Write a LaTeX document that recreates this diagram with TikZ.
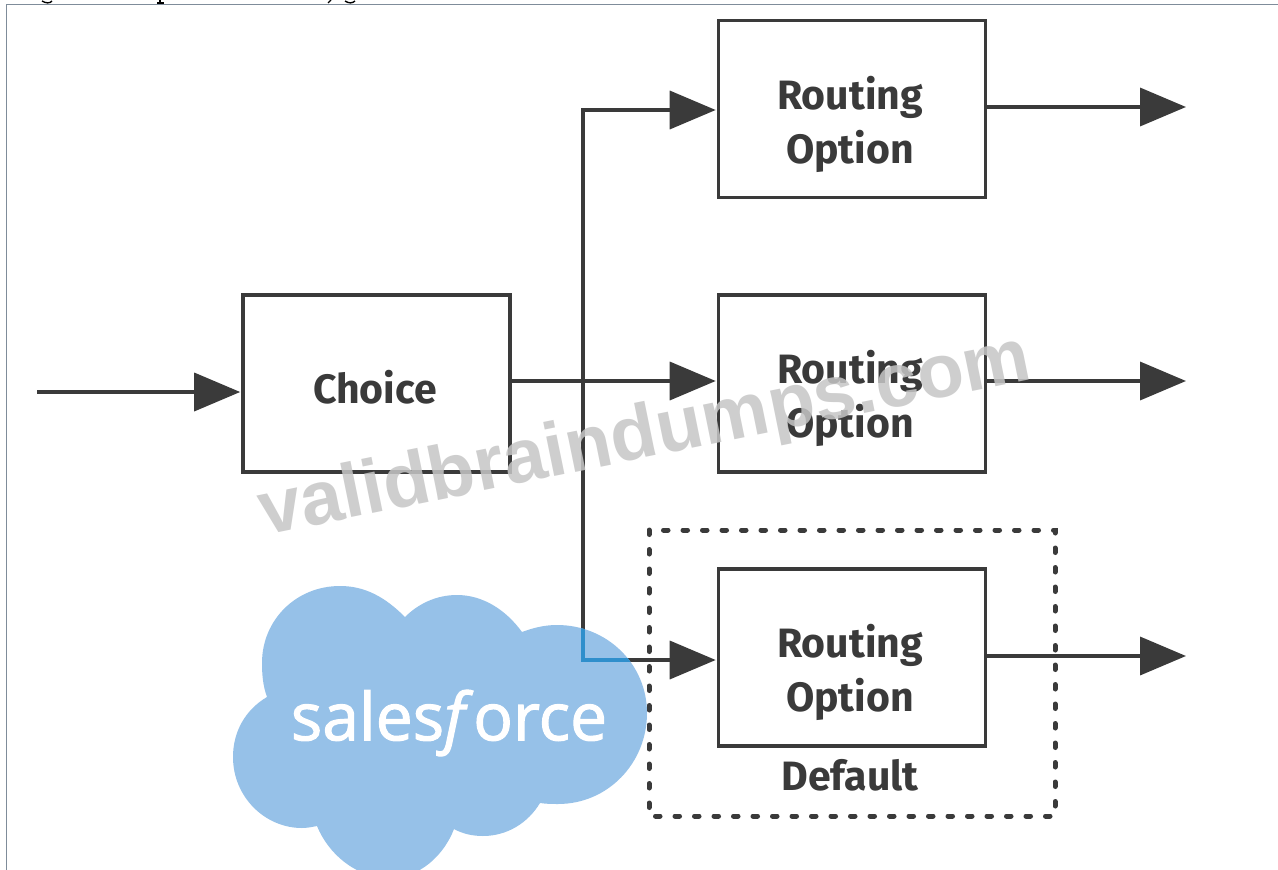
\documentclass[tikz,border=0pt]{standalone}
\usepackage{fontspec}
\setmainfont{Fira Sans}
\newfontfamily\wmfont{Liberation Sans}
\newfontfamily\logofont{Open Sans}[FakeBold=1.6,ItalicFeatures={FakeBold=1.6}]
\usetikzlibrary{arrows.meta,calc}
\definecolor{ink}{HTML}{3A3A3A}
\definecolor{cloudblue}{HTML}{96C1E8}
\definecolor{wm}{HTML}{C6C6C6}
\definecolor{framec}{HTML}{7F8C9A}
\definecolor{overblue}{HTML}{2F8FCC}
\newcommand{\cloudpath}{(405,617)
 .. controls (385,597) and (365,586) .. (340,586)
 .. controls (296,586) and (262,620) .. (262,663)
 .. controls (262,675) and (263,686) .. (267,697)
 .. controls (245,710) and (233,732) .. (233,757)
 .. controls (233,797) and (265,828) .. (302,828)
 .. controls (307,828) and (312,827) .. (317,826)
 .. controls (328,853) and (355,878) .. (390,878)
 .. controls (420,878) and (444,855) .. (454,829)
 .. controls (463,834) and (473,836) .. (483,836)
 .. controls (507,836) and (528,823) .. (540,803)
 .. controls (547,804) and (552,804) .. (558,804)
 .. controls (608,804) and (647,763) .. (647,713)
 .. controls (647,664) and (607,625) .. (557,625)
 .. controls (544,625) and (533,628) .. (522,632)
 .. controls (506,610) and (483,595) .. (457,595)
 .. controls (436,595) and (418,604) .. (405,617) -- cycle}
\tikzset{
  x=1pt,y=-1pt,
  rbox/.style={draw=ink,line width=3.6pt,fill=white,minimum width=267pt,minimum height=177pt,inner sep=0pt},
  label/.style={font=\fontsize{41}{54}\selectfont\bfseries\color{ink},align=center,inner sep=0pt},
  flow/.style={draw=ink,line width=3.6pt},
  link/.style={flow,-{Triangle[length=46pt,width=38pt]},shorten >=1pt},
}
\begin{document}
\begin{tikzpicture}
\useasboundingbox (0,0) rectangle (1278,870);
\fill[white] (0,0) rectangle (1278,870);
\draw[framec,line width=1.6pt] (6.5,870) -- (6.5,4.5) -- (1278,4.5);
\draw[black,line width=1.4pt] (42,1) .. controls (46,3.5) and (50,3.5) .. (52,1);
\draw[black,line width=1.4pt] (160,0) -- (160,3) (157,3) -- (164,3);
\draw[black,line width=1.4pt] (331,0) -- (328,3);
\draw[black,line width=1.4pt] (345,1) .. controls (349,3.5) and (352,3.5) .. (355,1);
\node[rbox] (choice) at (376.5,383.5) {};
\node[rbox] (r1) at (852,109) {};
\node[rbox] (r2) at (852,383.5) {};
\node[rbox] (r3) at (852,657.5) {};
\node[label] (choicet) at (375,387) {Choice};
\node[label] (r1t) at (850,124) {Routing\\Option};
\node[label] (r2t) at (850,398) {Routing\\Option};
\node[label] (r3t) at (850,672) {Routing\\Option};
\node[label] (def) at (850,775) {Default};
\draw[ink,line width=5pt,dash pattern=on 4.5pt off 15pt,line cap=round] (649,530) rectangle (1055,816);
\coordinate (in) at (37,392);
\coordinate (o1) at (1187,107);
\coordinate (o2) at (1187,381);
\coordinate (o3) at (1187,656);
\coordinate (bus) at (583,381);
\draw[link] (in) -- (choice.west |- in);
\draw[link] (choice.east |- 0,381) -- (r2.west |- 0,381);
\draw[link] (bus) -- (583,110) -- (r1.west |- 0,110);
\draw[link] (bus) -- (583,660) -- (r3.west |- 0,660);
\draw[link] (r1.east |- o1) -- (o1);
\draw[link] (r2.east |- o2) -- (o2);
\draw[link] (r3.east |- o3) -- (o3);
\node[font=\fontsize{76}{80}\selectfont\wmfont\bfseries,text=wm,text opacity=.85,rotate=11.5] (mark) at (645,438) {validbraindumps.com};
\fill[cloudblue] \cloudpath;
\begin{scope}
\clip \cloudpath;
\draw[overblue,line width=3.6pt] (583,381) -- (583,660) -- (669,660);
\end{scope}
\node[font=\fontsize{66}{70}\selectfont\logofont,text=white] (logo) at (449,723) {sales\textit{f}orce};
\end{tikzpicture}
\end{document}
